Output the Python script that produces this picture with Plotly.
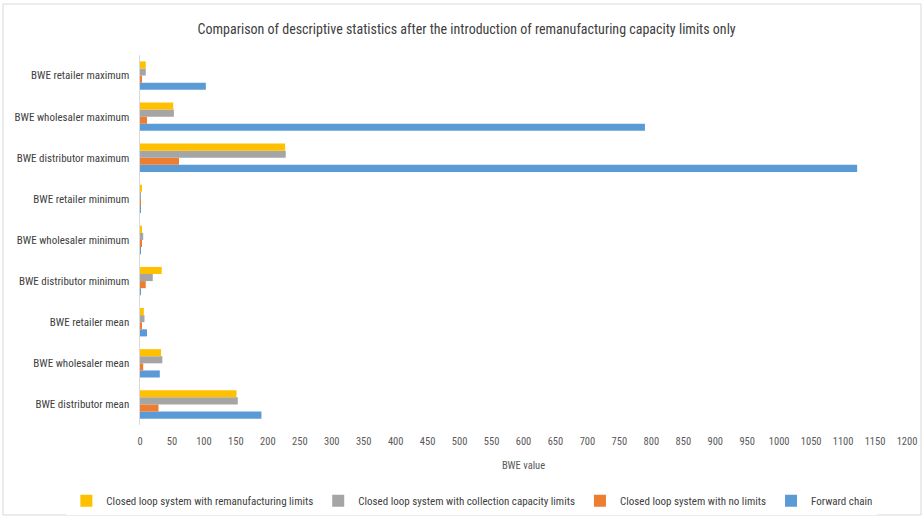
import plotly.graph_objects as go

categories = ["BWE distributor mean", "BWE wholesaler mean", "BWE retailer mean",
              "BWE distributor minimum", "BWE wholesaler minimum", "BWE retailer minimum",
              "BWE distributor maximum", "BWE wholesaler maximum", "BWE retailer maximum"]

forward_chain = [190, 31, 11, 0.5, 1, 1, 1122, 790, 103]
no_limits = [29, 5, 2, 9, 3, 1, 61, 11, 3]
collection_limits = [153, 35, 7, 20, 5, 1, 228, 53, 9]
reman_limits = [151, 33, 6, 34, 3, 3, 227, 52, 9]

series = [
    ("Forward chain", forward_chain, "#5B9BD5"),
    ("Closed loop system with no limits", no_limits, "#ED7D31"),
    ("Closed loop system with collection capacity limits", collection_limits, "#A5A5A5"),
    ("Closed loop system with remanufacturing limits", reman_limits, "#FFC000"),
]

font_family = "Liberation Sans Narrow, Arial Narrow, Roboto Condensed, sans-serif"

fig = go.Figure()
for name, vals, col in series:
    fig.add_trace(go.Bar(y=categories, x=vals, name=name, orientation="h",
                         marker=dict(color=col, line=dict(width=0))))

fig.update_layout(
    width=924, height=517,
    barmode="group", bargap=0.31, bargroupgap=0,
    plot_bgcolor="white", paper_bgcolor="white",
    margin=dict(l=140, r=17, t=55, b=92, autoexpand=False),
    font=dict(family=font_family, color="#595959", size=12),
    title=dict(text="Comparison of descriptive statistics after the introduction of remanufacturing capacity limits only",
               x=0.505, xanchor="center", y=0.944, yanchor="middle",
               font=dict(size=14, color="#404040", family=font_family)),
    xaxis=dict(range=[0, 1200], dtick=50, showgrid=False, zeroline=False,
               tickfont=dict(size=10.5, color="#595959"),
               title=dict(text="BWE value", font=dict(size=10.5, color="#595959")),
               showline=False, ticks="outside", ticklen=6, tickcolor="rgba(0,0,0,0)"),
    yaxis=dict(showline=True, linecolor="#D9D9D9", linewidth=1, ticks="",
               tickfont=dict(size=11, color="#404040"), ticksuffix="   "),
    legend=dict(orientation="h", traceorder="reversed",
                x=-0.096, xanchor="left",
                y=-0.205, yanchor="middle",
                font=dict(size=11, color="#404040"),
                itemwidth=30, tracegroupgap=0),
    shapes=[dict(type="rect", xref="paper", yref="paper",
                 x0=-137/767, x1=1 + 14/767, y0=-90/370, y1=1 + 51/370,
                 line=dict(color="#D9D9D9", width=1))],
)

fig.write_html("out.html")
